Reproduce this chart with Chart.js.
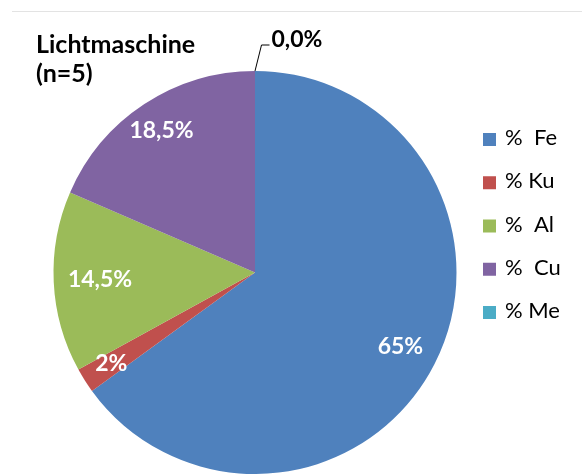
<!DOCTYPE html>
<html><head><meta charset="utf-8">
<script src="https://cdn.jsdelivr.net/npm/chart.js@4.4.1/dist/chart.umd.min.js"></script>
<style>html,body{margin:0;padding:0;background:#fff;}#wrap{width:582px;height:474px;}</style>
</head><body><div id="wrap"><canvas id="c" width="582" height="474"></canvas></div>
<script>
const categories = ['%  Fe', '% Ku', '%  Al', '%  Cu', '% Me'];
const shares = [65, 2, 14.5, 18.5, 0];
const valueLabels = ['65%', '2%', '14,5%', '18,5%', '0,0%'];
const colors = ['#4F81BD', '#C0504D', '#9BBB59', '#8064A2', '#4BACC6'];
const titleLines = ['Lichtmaschine', '(n=5)'];

const FONT = 'Lato, "Open Sans", sans-serif';

const decor = {
  id: 'decor',
  afterDraw(chart, args, opts) {
    const ctx = chart.ctx;
    ctx.save();
    // top frame line
    ctx.strokeStyle = '#e3e3e3';
    ctx.lineWidth = 1;
    ctx.beginPath(); ctx.moveTo(12, 11.5); ctx.lineTo(582, 11.5); ctx.stroke();

    // title
    ctx.fillStyle = '#000';
    ctx.font = 'bold 25px ' + FONT;
    ctx.textAlign = 'left';
    ctx.textBaseline = 'alphabetic';
    titleLines.forEach((t, i) => ctx.fillText(t, 36, 53 + i * 29));

    // legend
    ctx.font = '22px ' + FONT;
    ctx.textBaseline = 'middle';
    chart.data.labels.forEach((lab, i) => {
      const y = 138 + i * 43.25;
      ctx.fillStyle = colors[i];
      ctx.fillRect(483, y - 5, 13, 13);
      ctx.fillStyle = '#000';
      ctx.fillText(lab, 505, y);
    });

    // data labels
    const meta = chart.getDatasetMeta(0);
    const frac = opts.radialFractions;
    meta.data.forEach((arc, i) => {
      const p = arc.getProps(['x', 'y', 'startAngle', 'endAngle', 'outerRadius'], true);
      const mid = (p.startAngle + p.endAngle) / 2;
      if (shares[i] > 0) {
        const r = p.outerRadius * frac[i];
        ctx.font = 'bold 23px ' + FONT;
        ctx.fillStyle = '#fff';
        ctx.textAlign = 'center';
        ctx.textBaseline = 'middle';
        ctx.fillText(valueLabels[i], p.x + r * Math.cos(mid), p.y + r * Math.sin(mid));
      } else {
        const sx = p.x + p.outerRadius * Math.cos(mid);
        const sy = p.y + p.outerRadius * Math.sin(mid);
        const ex = sx + 6.5, ey = sy - 26;
        ctx.strokeStyle = '#000';
        ctx.lineWidth = 1;
        ctx.beginPath(); ctx.moveTo(sx, sy); ctx.lineTo(ex, ey); ctx.lineTo(ex + 8, ey); ctx.stroke();
        ctx.font = 'bold 23px ' + FONT;
        ctx.fillStyle = '#000';
        ctx.textAlign = 'left';
        ctx.textBaseline = 'alphabetic';
        ctx.fillText(valueLabels[i], ex + 10, ey + 2);
      }
    });
    ctx.restore();
  }
};

new Chart(document.getElementById('c'), {
  type: 'pie',
  data: {
    labels: categories,
    datasets: [{
      data: shares,
      backgroundColor: colors,
      borderWidth: 0,
      hoverOffset: 0
    }]
  },
  options: {
    responsive: false,
    animation: false,
    devicePixelRatio: 1,
    layout: { padding: { top: 71, bottom: 0, left: 0, right: 72 } },
    plugins: {
      legend: { display: false },
      title: { display: false },
      tooltip: { enabled: false },
      decor: { radialFractions: [0.81, 0.845, 0.77, 0.845, 1] }
    }
  },
  plugins: [decor]
});
</script>
</body></html>
